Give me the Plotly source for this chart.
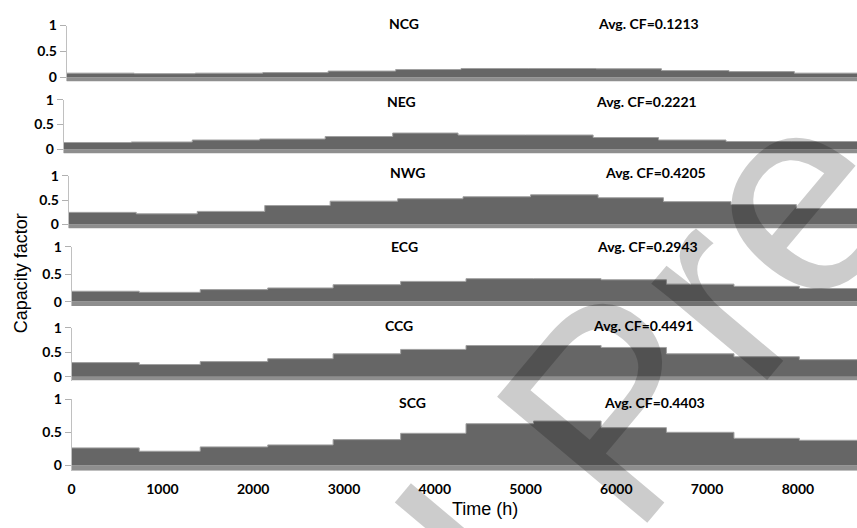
import plotly.graph_objects as go

# ---- data -------------------------------------------------------------
month_start_h = [0, 744, 1416, 2160, 2880, 3624, 4344, 5088, 5832, 6552, 7296, 8016]
year_end_h = 8760

regions = ["NCG", "NEG", "NWG", "ECG", "CCG", "SCG"]
avg_cf = ["0.1213", "0.2221", "0.4205", "0.2943", "0.4491", "0.4403"]

# monthly mean capacity factor per regional grid
ncg = [0.08, 0.07, 0.08, 0.09, 0.12, 0.15, 0.17, 0.17, 0.165, 0.13, 0.11, 0.08]
neg = [0.14, 0.15, 0.19, 0.21, 0.26, 0.33, 0.29, 0.29, 0.24, 0.19, 0.16, 0.16]
nwg = [0.25, 0.22, 0.27, 0.39, 0.48, 0.53, 0.57, 0.61, 0.55, 0.47, 0.41, 0.33]
ecg = [0.19, 0.17, 0.22, 0.25, 0.31, 0.37, 0.42, 0.42, 0.40, 0.32, 0.28, 0.24]
ccg = [0.29, 0.25, 0.31, 0.37, 0.47, 0.56, 0.64, 0.64, 0.60, 0.47, 0.41, 0.35]
scg = [0.265, 0.215, 0.28, 0.31, 0.39, 0.485, 0.63, 0.67, 0.57, 0.50, 0.41, 0.38]
series = [ncg, neg, nwg, ecg, ccg, scg]

x_ticks = [0, 1000, 2000, 3000, 4000, 5000, 6000, 7000, 8000]
y_ticks = [0, 0.5, 1]
y_tick_text = ["0", "0.5", "1"]

# ---- layout geometry (pixels) ------------------------------------------
W, H = 857, 528
FLOOR = -0.08            # depth of the grey floor strip below zero
PX_PER_HOUR = 0.0912
# (pixel row of value 1, pixel row of value 0, pixel column of y axis)
panel_px = [(17, 70, 63), (93, 144, 60), (171, 221, 65),
            (244, 300, 68), (327, 377, 68), (400, 468, 68)]
name_px = [(402, 15), (399, 95), (405, 168), (402, 243), (397, 325), (410, 403)]
avg_px = [(595, 15), (593, 95), (602, 168), (594, 243), (590, 325), (601, 403)]

DARK = "#666666"
FLOOR_COL = "#8e8e8e"
EDGE = "#a0a0a0"
LABEL_FONT = dict(family="Lato", size=14, color="#000000")

fig = go.Figure()
layout = dict(
    width=W, height=H,
    margin=dict(l=0, r=0, t=0, b=0),
    paper_bgcolor="white", plot_bgcolor="white",
    showlegend=False,
    annotations=[], shapes=[],
)

for i, (name, vals) in enumerate(zip(regions, series)):
    k = i + 1
    xa = "x" if k == 1 else f"x{k}"
    ya = "y" if k == 1 else f"y{k}"
    top_px, zero_px, left_px = panel_px[i]
    scale = zero_px - top_px
    bottom_px = zero_px - FLOOR * scale

    xs = month_start_h + [year_end_h]
    ys = vals + [vals[-1]]
    fig.add_trace(go.Scatter(
        x=xs, y=ys, xaxis=xa, yaxis=ya,
        mode="lines", line=dict(shape="hv", color=EDGE, width=1),
        fill="tozeroy", fillcolor=DARK, hoverinfo="skip",
    ))

    last = (k == len(regions))
    layout[f"xaxis{k}"] = dict(
        domain=[left_px / W, 1.0],
        range=[0, (W - left_px) / PX_PER_HOUR],
        anchor=ya, showgrid=False, zeroline=False, showline=False,
        tickvals=x_ticks, ticks="",
        showticklabels=last,
        tickfont=dict(family="Lato", size=14, color="#000000", weight="bold"),
        ticklabelstandoff=8,
    )
    layout[f"yaxis{k}"] = dict(
        domain=[1 - bottom_px / H, 1 - top_px / H],
        range=[FLOOR, 1.0],
        anchor=xa, showgrid=False, zeroline=False,
        showline=True, linecolor="#c0c0c0", linewidth=1,
        tickvals=y_ticks, ticktext=y_tick_text,
        ticks="outside", ticklen=6, tickcolor="#b0b0b0", tickwidth=1,
        tickfont=dict(family="Lato", size=14, color="#000000", weight="bold"),
    )

    # grey floor strip under the zero line
    layout["shapes"].append(dict(
        type="rect", xref=f"{xa} domain", yref=ya,
        x0=0, x1=1, y0=FLOOR, y1=0,
        fillcolor=FLOOR_COL, line=dict(width=0), layer="below",
    ))

    nx, ny = name_px[i]
    layout["annotations"].append(dict(
        text=f"<b>{name}</b>", x=nx / W, y=1 - ny / H,
        xref="paper", yref="paper", xanchor="center", yanchor="middle",
        showarrow=False, font=LABEL_FONT,
    ))
    ax_, ay_ = avg_px[i]
    layout["annotations"].append(dict(
        text=f"<b>Avg. CF={avg_cf[i]}</b>", x=ax_ / W, y=1 - ay_ / H,
        xref="paper", yref="paper", xanchor="left", yanchor="middle",
        showarrow=False, font=LABEL_FONT,
    ))

# axis titles
layout["annotations"].append(dict(
    text="Capacity factor", x=17 / W, y=1 - 271 / H,
    xref="paper", yref="paper", xanchor="center", yanchor="middle",
    textangle=-90, showarrow=False,
    font=dict(family="Liberation Sans", size=18, color="#000000"),
))
layout["annotations"].append(dict(
    text="Time (h)", x=483 / W, y=1 - 513 / H,
    xref="paper", yref="paper", xanchor="center", yanchor="middle",
    showarrow=False,
    font=dict(family="Liberation Sans", size=18, color="#000000"),
))

# diagonal watermark
layout["annotations"].append(dict(
    text="Journal Pre-proof", x=612 / W, y=1 - 412 / H,
    xref="paper", yref="paper", xanchor="center", yanchor="middle",
    textangle=-50, showarrow=False,
    font=dict(family="Liberation Sans", size=285, color="rgba(0,0,0,0.2)"),
))

fig.update_layout(**layout)
fig.write_html("out.html")
